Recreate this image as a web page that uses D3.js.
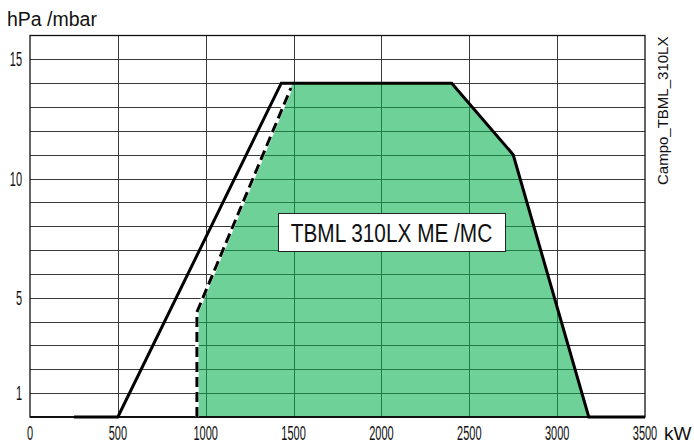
<!DOCTYPE html>
<html>
<head>
<meta charset="utf-8">
<script src="https://cdn.jsdelivr.net/npm/d3@7"></script>
<style>
  body { margin: 0; background: #fff; }
  text { font-family: "Liberation Sans", Arial, sans-serif; fill: #111; }
</style>
</head>
<body>
<div id="chart"></div>
<script>
// working range data (kW vs hPa/mbar)
var xTicks = [0, 500, 1000, 1500, 2000, 2500, 3000, 3500];
var yTicks = [1, 5, 10, 15];
var yGrid = [1, 2, 3, 4, 5, 6, 7, 8, 9, 10, 11, 12, 13, 14, 15];
// outer limit (solid line)
var outerKw   = [250, 500, 1430, 2400, 2750, 3180, 3500];
var outerMbar = [0,   0,   14,   14,   11,   0,    0];
// green working field
var fieldKw   = [950, 950, 1495, 2400, 2750, 3180];
var fieldMbar = [0,   4.4, 14,   14,   11,   0];
// dashed limit
var dashKw   = [950, 950, 1485];
var dashMbar = [0,   4.4, 13.8];
var boxLabel = "TBML 310LX ME /MC";

var W = 694, H = 443;
var svg = d3.select("#chart").append("svg")
    .attr("width", W).attr("height", H);

var x = d3.scaleLinear().domain([0, 3500]).range([30, 645]);
var y = d3.scaleLinear().domain([0, 16]).range([417, 35.5]);

function pts(a, b){ return a.map(function(v, i){ return [v, b[i]]; }); }
var line = d3.line().x(function(d){ return x(d[0]); }).y(function(d){ return y(d[1]); });

// grid
function drawGrid(g, col){
  g.selectAll(".h").data(yGrid).enter().append("line")
    .attr("x1", x(0)).attr("x2", x(3500))
    .attr("y1", function(d){ return Math.round(y(d)) + 0.5; })
    .attr("y2", function(d){ return Math.round(y(d)) + 0.5; })
    .style("stroke", col).style("stroke-width", 1);
  g.selectAll(".v").data(xTicks.slice(1, -1)).enter().append("line")
    .attr("y1", y(0)).attr("y2", y(16))
    .attr("x1", function(d){ return Math.round(x(d)) + 0.5; })
    .attr("x2", function(d){ return Math.round(x(d)) + 0.5; })
    .style("stroke", col).style("stroke-width", 1);
}
drawGrid(svg.append("g"), "#3a3a3a");

// field
var field = pts(fieldKw, fieldMbar);
svg.append("path").attr("d", line(field) + "Z")
  .style("fill", "#6dd198").style("stroke", "none");

svg.append("clipPath").attr("id", "fieldClip")
  .append("path").attr("d", line(field) + "Z");
drawGrid(svg.append("g").attr("clip-path", "url(#fieldClip)"), "#1f7a45");

// frame
svg.append("rect")
  .attr("x", x(0)).attr("y", y(16))
  .attr("width", x(3500) - x(0)).attr("height", y(0) - y(16))
  .style("fill", "none").style("stroke", "#111").style("stroke-width", 1.3);
svg.append("line")
  .attr("x1", x(0)).attr("x2", x(3500)).attr("y1", y(0)).attr("y2", y(0))
  .style("stroke", "#111").style("stroke-width", 2);

// dashed limit
var dash = pts(dashKw, dashMbar);
svg.append("path").attr("d", line(dash))
  .style("fill", "none").style("stroke", "#fff").style("stroke-width", 3.5);
svg.append("path").attr("d", line(dash))
  .style("fill", "none").style("stroke", "#000").style("stroke-width", 3)
  .style("stroke-dasharray", "10,5");

// outer limit
svg.append("path").attr("d", line(pts(outerKw, outerMbar)))
  .style("fill", "none").style("stroke", "#000").style("stroke-width", 3)
  .style("stroke-linejoin", "miter");

// condensed text helper
function ctext(px, py, str, size, sx, anchor){
  return svg.append("text")
    .attr("transform", "translate(" + px + "," + py + ") scale(" + sx + ",1)")
    .attr("text-anchor", anchor)
    .style("font-size", size + "px")
    .text(str);
}

xTicks.forEach(function(d){ ctext(x(d), 440, d, 20, 0.55, "middle"); });
yTicks.forEach(function(d){ ctext(22, y(d) + 7, d, 20, 0.55, "end"); });

svg.append("text").attr("x", 7).attr("y", 26)
  .style("font-size", "19.5px").text("hPa /mbar");
svg.append("text").attr("x", 664).attr("y", 440)
  .style("font-size", "19px").text("kW");
svg.append("text")
  .attr("transform", "translate(668,185) rotate(-90)")
  .style("font-size", "15px").text("Campo_TBML_310LX");

// label box
svg.append("rect").attr("x", 278.5).attr("y", 213.5).attr("width", 227).attr("height", 38)
  .style("fill", "#fff").style("stroke", "#222").style("stroke-width", 1);
ctext(391.5, 242, boxLabel, 26, 0.8, "middle");
</script>
</body>
</html>
